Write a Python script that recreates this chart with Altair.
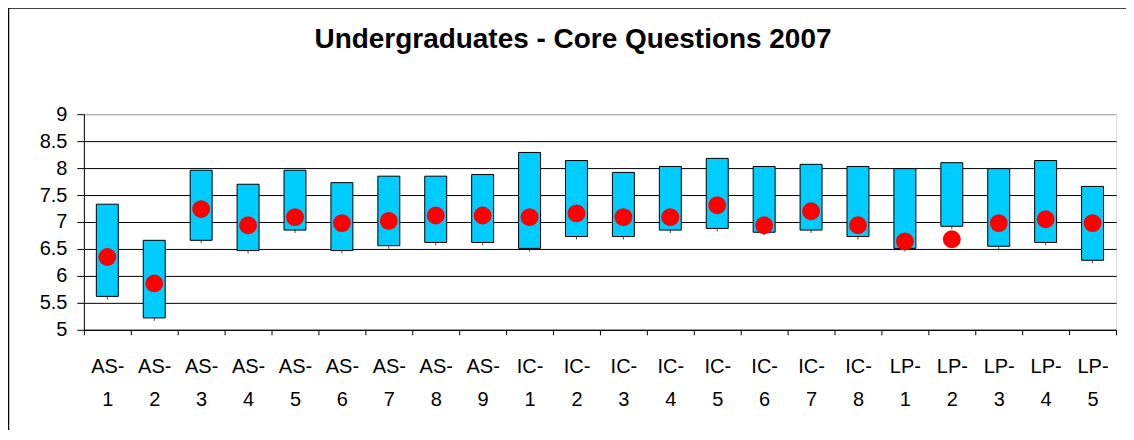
import altair as alt
import pandas as pd

categories = ["AS-1", "AS-2", "AS-3", "AS-4", "AS-5", "AS-6", "AS-7", "AS-8", "AS-9",
              "IC-1", "IC-2", "IC-3", "IC-4", "IC-5", "IC-6", "IC-7", "IC-8",
              "LP-1", "LP-2", "LP-3", "LP-4", "LP-5"]
high = [7.33, 6.66, 7.96, 7.70, 7.96, 7.73, 7.85, 7.85, 7.88, 8.29, 8.14, 7.92,
        8.03, 8.18, 8.03, 8.07, 8.03, 7.99, 8.10, 7.99, 8.14, 7.66]
low = [5.62, 5.22, 6.66, 6.47, 6.85, 6.47, 6.56, 6.62, 6.62, 6.51, 6.73, 6.73,
       6.85, 6.88, 6.81, 6.85, 6.73, 6.51, 6.92, 6.55, 6.62, 6.29]
mean = [6.35, 5.86, 7.24, 6.94, 7.09, 6.98, 7.02, 7.12, 7.12, 7.09, 7.16, 7.09,
        7.09, 7.31, 6.94, 7.20, 6.94, 6.64, 6.68, 6.98, 7.05, 6.98]
y_ticks = [5, 5.5, 6, 6.5, 7, 7.5, 8, 8.5, 9]
title_text = ["Undergraduates - Core Questions 2007"]

df = pd.DataFrame({"q": categories, "high": high, "low": low, "mean": mean})

FONT = "Liberation Sans"
W, H = 1034, 216

x_enc = alt.X(
    "q:N", sort=categories, title=None,
    scale=alt.Scale(paddingInner=0, paddingOuter=0),
    axis=alt.Axis(
        labelAngle=0, tickBand="extent", tickSize=5, tickColor="black",
        domainColor="black", labelColor="black", labelFont=FONT, labelFontSize=20,
        labelPadding=22, labelLineHeight=33, labelBaseline="top",
        labelExpr="datum.label ? [split(datum.label, '-')[0] + '-', split(datum.label, '-')[1]] : ''",
        grid=False,
    ),
)
y_scale = alt.Scale(domain=[5, 9], nice=False, zero=False)
y_axis = alt.Axis(
    values=y_ticks, title=None, format=".1~f", tickSize=7, tickColor="black", domainColor="black",
    labelColor="black", labelFont=FONT, labelFontSize=20, labelPadding=10,
    grid=True, gridColor={"condition": {"test": "datum.value === 9", "value": "#a0a0a0"}, "value": "black"},
    gridOpacity=1, gridWidth=1,
)

base = alt.Chart(df)

ticks = base.mark_tick(orient="vertical", color="black", size=6, thickness=1).encode(
    x=x_enc, y=alt.Y("low:Q", scale=y_scale, axis=y_axis)
)
bars = base.mark_bar(width=22, color="#00CCFF", stroke="black", strokeWidth=1).encode(
    x=x_enc, y=alt.Y("low:Q", scale=y_scale, axis=y_axis), y2="high:Q"
)
dots = base.mark_circle(size=320, color="#FF0000", opacity=1).encode(
    x=x_enc, y=alt.Y("mean:Q", scale=y_scale, axis=y_axis)
)

title = alt.Chart(pd.DataFrame({"t": title_text})).mark_text(
    font=FONT, fontSize=28, fontWeight="bold", color="black", align="center", baseline="alphabetic"
).encode(text="t:N", x=alt.value(490), y=alt.value(-66))

border_top = alt.Chart(df.head(1)).mark_rule(color="black", strokeWidth=1.5).encode(
    x=alt.value(-76.5), x2=alt.value(W + 20), y=alt.value(-106.5)
)
border_left = alt.Chart(df.head(1)).mark_rule(color="black", strokeWidth=1.5).encode(
    x=alt.value(-75.5), y=alt.value(-106.5), y2=alt.value(H + 110)
)

chart = alt.layer(ticks, bars, dots, title, border_top, border_left).properties(
    width=W, height=H,
    autosize=alt.AutoSizeParams(type="none"),
    padding={"left": 76, "top": 106, "right": 10, "bottom": 100},
).configure_view(stroke="#a0a0a0", strokeWidth=1.5).configure(background="white")

chart.save("out.html", embed_options={"renderer": "svg", "actions": False})
